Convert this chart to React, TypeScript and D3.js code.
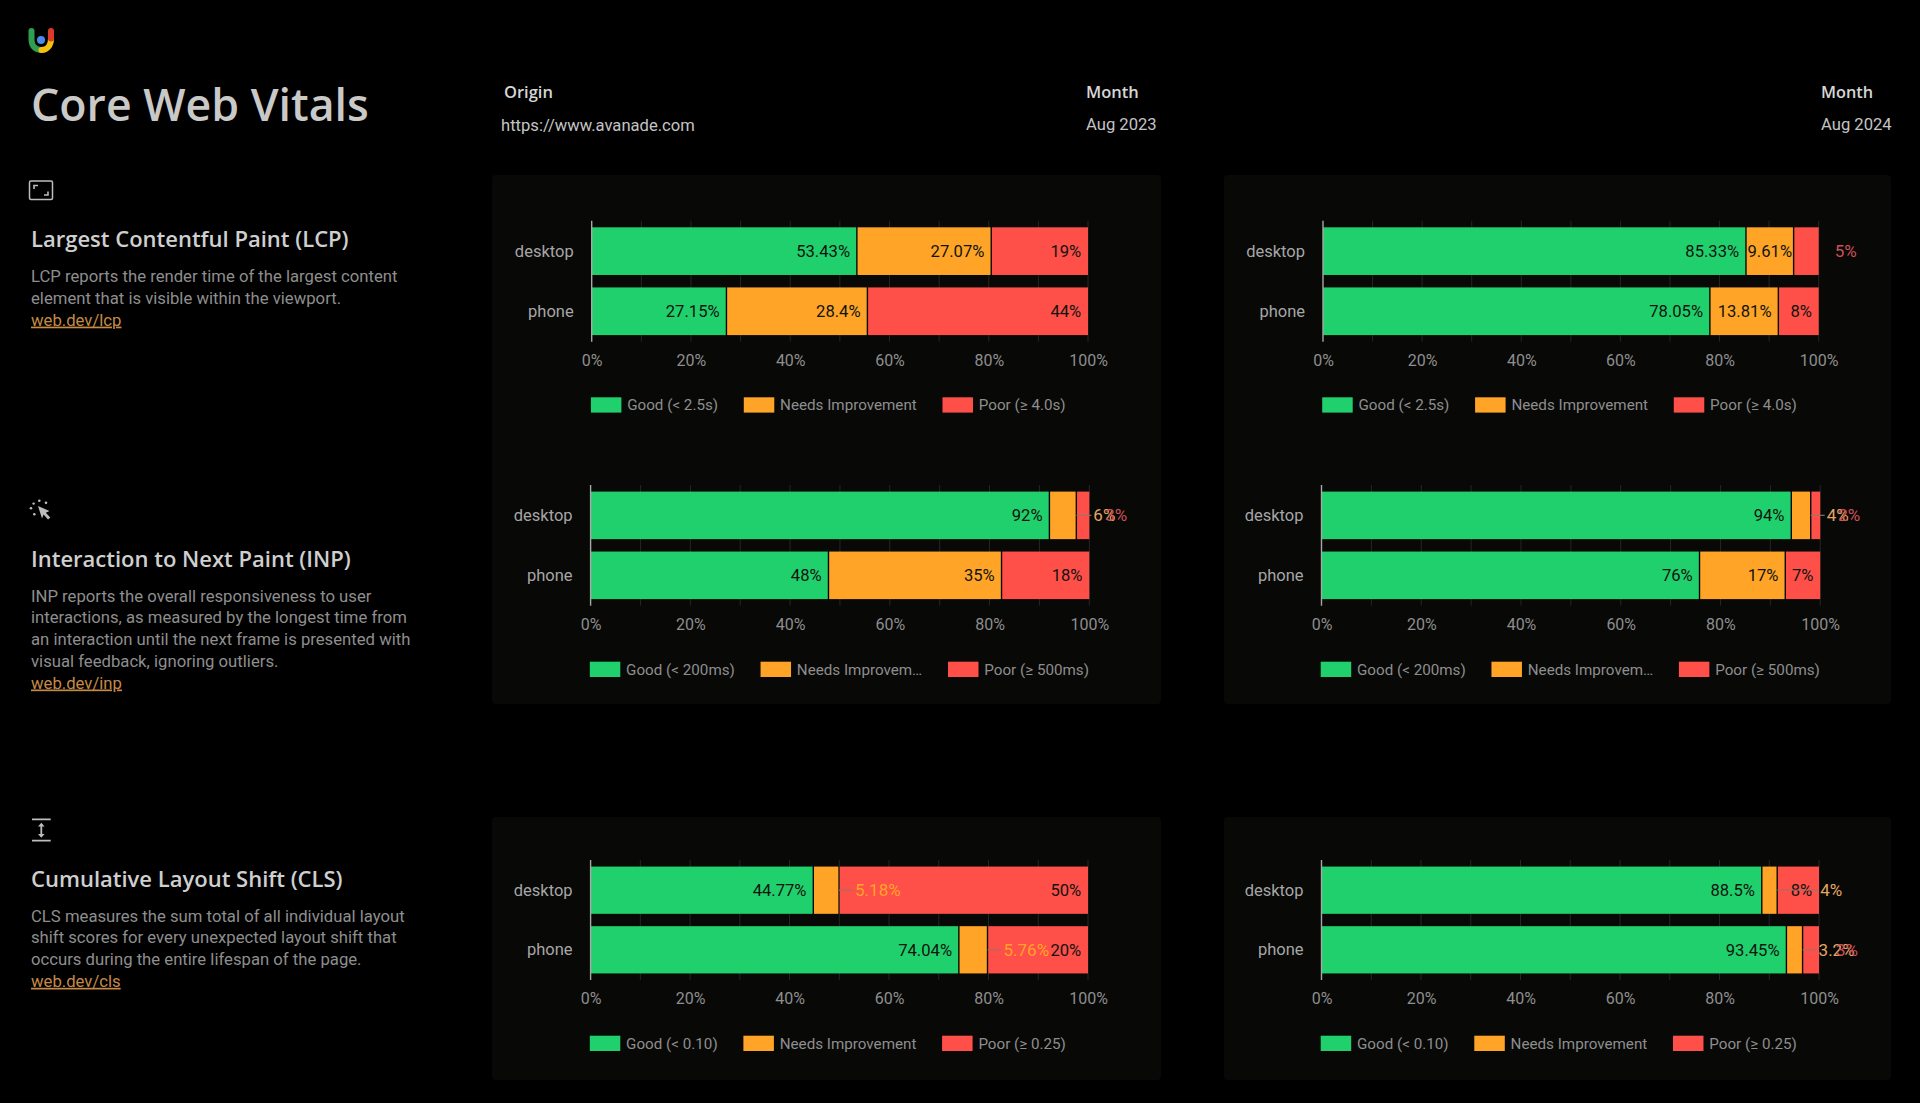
import { useEffect, useRef } from 'react';
import * as d3 from 'd3';

// ─── Data ───────────────────────────────────────────────────

const DEVICES = ['desktop', 'phone'];
const X_TICKS = [0, 20, 40, 60, 80, 100];
const GRID_TICKS = [10, 20, 30, 40, 50, 60, 70, 80, 90, 100];

const LCP_LEGEND = ['Good (< 2.5s)', 'Needs Improvement', 'Poor (≥ 4.0s)'];
const INP_LEGEND = ['Good (< 200ms)', 'Needs Improvem…', 'Poor (≥ 500ms)'];
const CLS_LEGEND = ['Good (< 0.10)', 'Needs Improvement', 'Poor (≥ 0.25)'];

const LCP_2023_VALUES = [[53.43, 27.07, 19.5], [27.15, 28.4, 44.45]];
const LCP_2023_LABELS = [['53.43%', '27.07%', '19%'], ['27.15%', '28.4%', '44%']];
const LCP_2024_VALUES = [[85.33, 9.61, 5.06], [78.05, 13.81, 8.14]];
const LCP_2024_LABELS = [['85.33%', '9.61%', '5%'], ['78.05%', '13.81%', '8%']];

const INP_2023_VALUES = [[92, 5.4, 2.6], [47.7, 34.7, 17.6]];
const INP_2023_LABELS = [['92%', '6%', '3%'], ['48%', '35%', '18%']];
const INP_2024_VALUES = [[94.2, 3.9, 1.9], [75.8, 17.2, 7]];
const INP_2024_LABELS = [['94%', '4%', '2%'], ['76%', '17%', '7%']];

const CLS_2023_VALUES = [[44.77, 5.18, 50.05], [74.04, 5.76, 20.2]];
const CLS_2023_LABELS = [['44.77%', '5.18%', '50%'], ['74.04%', '5.76%', '20%']];
const CLS_2024_VALUES = [[88.5, 3.1, 8.4], [93.45, 3.25, 3.3]];
const CLS_2024_LABELS = [['88.5%', '4%', '8%'], ['93.45%', '3.2%', '3%']];

// ─── Constants ──────────────────────────────────────────────

const GREEN = '#20d06c';
const ORANGE = '#ffa426';
const RED = '#ff4f49';
const SEGMENT_COLORS = [GREEN, ORANGE, RED];
const OUTSIDE_COLORS = ['', '#e0a662', '#cc5058'];

const BODY_FONT = 'Roboto, sans-serif';
const HEAD_FONT = '"Open Sans", sans-serif';

// plot frame of every chart
const ROW_FRAMES = [
  { top: 220.7, bottom: 341.7, lefts: [591.7, 1323], rights: [1088, 1818.7], legendTop: 397.3 },
  { top: 485, bottom: 605.7, lefts: [590.6, 1321.5], rights: [1089.3, 1820.2], legendTop: 661.7 },
  { top: 860, bottom: 980, lefts: [590.6, 1321.5], rights: [1088, 1819], legendTop: 1035.7 },
];

const CHARTS = [
  { id: 'lcp2023', row: 0, col: 0, values: LCP_2023_VALUES, labels: LCP_2023_LABELS, legend: LCP_LEGEND },
  { id: 'lcp2024', row: 0, col: 1, values: LCP_2024_VALUES, labels: LCP_2024_LABELS, legend: LCP_LEGEND },
  { id: 'inp2023', row: 1, col: 0, values: INP_2023_VALUES, labels: INP_2023_LABELS, legend: INP_LEGEND },
  { id: 'inp2024', row: 1, col: 1, values: INP_2024_VALUES, labels: INP_2024_LABELS, legend: INP_LEGEND },
  { id: 'cls2023', row: 2, col: 0, values: CLS_2023_VALUES, labels: CLS_2023_LABELS, legend: CLS_LEGEND },
  { id: 'cls2024', row: 2, col: 1, values: CLS_2024_VALUES, labels: CLS_2024_LABELS, legend: CLS_LEGEND },
];

// labels that do not fit their segment: px from the segment end to the text
const OUTSIDE_LABELS: Record<string, number> = {
  'lcp2024/desktop/2': 16,
  'inp2023/desktop/1': 17,
  'inp2023/desktop/2': 16,
  'inp2024/desktop/1': 16,
  'inp2024/desktop/2': 18,
  'cls2023/desktop/1': 16,
  'cls2023/phone/1': 16,
  'cls2024/desktop/1': 43,
  'cls2024/phone/1': 16,
  'cls2024/phone/2': 17,
};

const PANELS = [
  { x: 492, y: 175, w: 669, h: 529 },
  { x: 1224, y: 175, w: 667, h: 529 },
  { x: 492, y: 817, w: 669, h: 263 },
  { x: 1224, y: 817, w: 667, h: 263 },
];

const SECTIONS = [
  {
    title: 'Largest Contentful Paint (LCP)',
    titleY: 246.7,
    bodyY: 282.2,
    lines: ['LCP reports the render time of the largest content', 'element that is visible within the viewport.'],
    link: 'web.dev/lcp',
  },
  {
    title: 'Interaction to Next Paint (INP)',
    titleY: 567,
    bodyY: 601.7,
    lines: [
      'INP reports the overall responsiveness to user',
      'interactions, as measured by the longest time from',
      'an interaction until the next frame is presented with',
      'visual feedback, ignoring outliers.',
    ],
    link: 'web.dev/inp',
  },
  {
    title: 'Cumulative Layout Shift (CLS)',
    titleY: 887.3,
    bodyY: 921.7,
    lines: [
      'CLS measures the sum total of all individual layout',
      'shift scores for every unexpected layout shift that',
      'occurs during the entire lifespan of the page.',
    ],
    link: 'web.dev/cls',
  },
];

// ─── Chart drawing ──────────────────────────────────────────

function drawChart(root: SVGGElement, chart: (typeof CHARTS)[number]) {
  const frame = ROW_FRAMES[chart.row];
  const left = frame.lefts[chart.col];
  const right = frame.rights[chart.col];
  const g = d3.select(root);
  g.selectAll('*').remove();

  const x = d3.scaleLinear().domain([0, 100]).range([left, right]);
  const y = d3
    .scaleBand()
    .domain(DEVICES)
    .range([frame.top, frame.bottom])
    .paddingInner(0.207)
    .paddingOuter(0.11);

  // Grid
  g.append('g')
    .selectAll('line')
    .data(GRID_TICKS)
    .join('line')
    .attr('x1', (d) => x(d))
    .attr('x2', (d) => x(d))
    .attr('y1', frame.top)
    .attr('y2', frame.bottom)
    .attr('stroke', '#262626')
    .attr('stroke-width', 1);

  // Stacked segments
  const rows = chart.values.map((vals, i) => {
    const obj: Record<string, number | string> = { device: DEVICES[i] };
    vals.forEach((v, j) => (obj[`s${j}`] = v));
    return obj;
  });
  const stacked = d3.stack<Record<string, number | string>>().keys(['s0', 's1', 's2'])(rows as any);

  stacked.forEach((layer, segIdx) => {
    // 1.4px dark separator centred on the segment boundary
    const inset = segIdx > 0 ? 0.7 : 0;
    const outset = segIdx < 2 ? 0.7 : 0;
    g.append('g')
      .selectAll('rect')
      .data(layer)
      .join('rect')
      .attr('x', (d) => x(d[0]) + inset)
      .attr('y', (d) => y(String(d.data.device))!)
      .attr('width', (d) => Math.max(0, x(d[1]) - x(d[0]) - inset - outset))
      .attr('height', y.bandwidth())
      .attr('fill', SEGMENT_COLORS[segIdx]);
  });

  // Zero line
  g.append('line')
    .attr('x1', x(0))
    .attr('x2', x(0))
    .attr('y1', frame.top)
    .attr('y2', frame.bottom)
    .attr('stroke', '#a8a8a8')
    .attr('stroke-width', 1.4);

  // Category labels
  g.append('g')
    .selectAll('text')
    .data(DEVICES)
    .join('text')
    .attr('x', left - 18)
    .attr('y', (d) => y(d)! + y.bandwidth() / 2 + 5.5)
    .attr('text-anchor', 'end')
    .attr('font-family', BODY_FONT)
    .attr('font-size', 16.5)
    .attr('fill', '#a6a6a6')
    .text((d) => d);

  // X axis
  const axis = g
    .append('g')
    .attr('transform', `translate(0,${frame.bottom})`)
    .call(
      d3
        .axisBottom(x)
        .tickValues(X_TICKS)
        .tickSize(0)
        .tickPadding(12.6)
        .tickFormat((d) => `${d}%`),
    );
  axis.select('.domain').remove();
  axis.selectAll('text').attr('font-family', BODY_FONT).attr('font-size', 16).attr('fill', '#8e8e8e');

  // Value labels, leaders go on top of them
  const leaders: { from: number; to: number; y: number }[] = [];
  stacked.forEach((layer, segIdx) => {
    layer.forEach((d, rowIdx) => {
      const device = DEVICES[rowIdx];
      const label = chart.labels[rowIdx][segIdx];
      const segEnd = x(d[1]);
      const segW = segEnd - x(d[0]);
      const cy = y(device)! + y.bandwidth() / 2 + 5.7;
      const gap = OUTSIDE_LABELS[`${chart.id}/${device}/${segIdx}`];
      const text = g
        .append('text')
        .attr('y', cy)
        .attr('font-family', BODY_FONT)
        .attr('font-size', gap !== undefined ? 17 : 16.6)
        .text(label);

      if (gap !== undefined) {
        // a label that lands on the red segment keeps the full orange
        const onBar = segEnd + gap < right - 20;
        text.attr('x', segEnd + gap).attr('fill', onBar ? ORANGE : OUTSIDE_COLORS[segIdx]);
        if (segIdx === 1) leaders.push({ from: segEnd, to: segEnd + gap - 2, y: cy - 5.7 });
      } else {
        const w = (text.node() as SVGTextElement).getComputedTextLength();
        const pad = Math.min(6.8, (segW - w) / 2);
        text.attr('x', segEnd - pad).attr('text-anchor', 'end').attr('fill', '#10140f');
      }
    });
  });

  g.append('g')
    .selectAll('line')
    .data(leaders)
    .join('line')
    .attr('x1', (d) => d.from)
    .attr('x2', (d) => d.to)
    .attr('y1', (d) => d.y)
    .attr('y2', (d) => d.y)
    .attr('stroke', '#96756c')
    .attr('stroke-opacity', 0.85)
    .attr('stroke-width', 1.3);

  // Legend
  let cursor = left - 0.8;
  chart.legend.forEach((name, i) => {
    g.append('rect')
      .attr('x', cursor)
      .attr('y', frame.legendTop)
      .attr('width', 30.5)
      .attr('height', 15.3)
      .attr('fill', SEGMENT_COLORS[i]);
    const t = g
      .append('text')
      .attr('x', cursor + 36.3)
      .attr('y', frame.legendTop + 13)
      .attr('font-family', BODY_FONT)
      .attr('font-size', 15.2)
      .attr('fill', '#8e8e8e')
      .text(name);
    cursor += 36.3 + (t.node() as SVGTextElement).getComputedTextLength() + 25.7;
  });
}

function VitalsChart({ chart }: { chart: (typeof CHARTS)[number] }) {
  const ref = useRef<SVGGElement>(null);
  useEffect(() => {
    if (ref.current) drawChart(ref.current, chart);
  }, [chart]);
  return <g ref={ref} />;
}

// ─── Small icons ────────────────────────────────────────────

function Logo() {
  return (
    <g fill="none" strokeWidth={6} strokeLinecap="round">
      <path d="M31.5 31 V39.5 C31.5 46.5 36 50 41.5 50" stroke="#2f9e4f" />
      <path d="M41.5 50 C47 50 51 45.5 51 38.5" stroke="#f4c20d" />
      <path d="M51 38.5 V31" stroke="#d93a2b" />
      <circle cx={41} cy={40} r={4} fill="#4a8ae8" stroke="none" />
    </g>
  );
}

function SectionIcons() {
  const c = '#bdbdbd';
  return (
    <g>
      <rect x={29.5} y={181} width={23} height={18.5} rx={1.5} fill="none" stroke={c} strokeWidth={1.5} />
      <path d="M34 189 V185.5 H38 M48 191.5 V195 H44" fill="none" stroke={c} strokeWidth={1.6} />

      <path d="M38 506 L49.5 511 L45.8 512.8 L50.3 517.6 L48 519.4 L43.6 514.6 L42 518.4 Z" fill={c} />
      <circle cx={31} cy={508.3} r={1.3} fill={c} />
      <circle cx={34.3} cy={514.3} r={1.3} fill={c} />
      <circle cx={33.6} cy={503.6} r={1.2} fill={c} />
      <circle cx={39.3} cy={500.7} r={1.3} fill={c} />
      <circle cx={46} cy={502.7} r={1.3} fill={c} />

      <path d="M32 819.3 H50.7 M32 840.7 H50.7 M41.3 824 V836.5" fill="none" stroke={c} strokeWidth={1.8} />
      <path d="M38 826.5 L41.3 822.8 L44.6 826.5 Z M38 834 L41.3 837.7 L44.6 834 Z" fill={c} />
    </g>
  );
}

// ─── App ────────────────────────────────────────────────────

export default function App() {
  useEffect(() => {
    document.body.style.margin = '0';
    document.body.style.background = '#000';
  }, []);

  return (
    <svg width={1920} height={1103} style={{ display: 'block', background: '#000' }}>
      {PANELS.map((p) => (
        <rect key={`${p.x}-${p.y}`} x={p.x} y={p.y} width={p.w} height={p.h} rx={4} fill="#080807" />
      ))}

      <Logo />
      <text x={31} y={121} fontFamily={HEAD_FONT} fontSize={44.7} fontWeight={600} fill="#c9c9c7">
        Core Web Vitals
      </text>

      <text x={504} y={97.7} fontFamily={HEAD_FONT} fontSize={16.5} fontWeight={600} fill="#d6d6d6">
        Origin
      </text>
      <text x={501} y={131} fontFamily={BODY_FONT} fontSize={16.6} fill="#c4c4c4">
        https://www.avanade.com
      </text>
      <text x={1086} y={97.7} fontFamily={HEAD_FONT} fontSize={16.5} fontWeight={600} fill="#d6d6d6">
        Month
      </text>
      <text x={1086} y={130} fontFamily={BODY_FONT} fontSize={16.6} fill="#c4c4c4">
        Aug 2023
      </text>
      <text x={1821} y={97.7} fontFamily={HEAD_FONT} fontSize={16.3} fontWeight={600} fill="#d6d6d6">
        Month
      </text>
      <text x={1821} y={130} fontFamily={BODY_FONT} fontSize={16.6} fill="#c4c4c4">
        Aug 2024
      </text>

      <SectionIcons />

      {SECTIONS.map((s) => (
        <g key={s.title}>
          <text x={31} y={s.titleY} fontFamily={HEAD_FONT} fontSize={22} fontWeight={600} fill="#cfcfcf">
            {s.title}
          </text>
          {s.lines.map((line, i) => (
            <text key={line} x={31} y={s.bodyY + i * 21.7} fontFamily={BODY_FONT} fontSize={16.7} fill="#8e8e8e">
              {line}
            </text>
          ))}
          <text
            x={31}
            y={s.bodyY + s.lines.length * 21.7}
            fontFamily={BODY_FONT}
            fontSize={16.7}
            fill="#c58a46"
            textDecoration="underline"
          >
            {s.link}
          </text>
        </g>
      ))}

      {CHARTS.map((c) => (
        <VitalsChart key={c.id} chart={c} />
      ))}
    </svg>
  );
}
